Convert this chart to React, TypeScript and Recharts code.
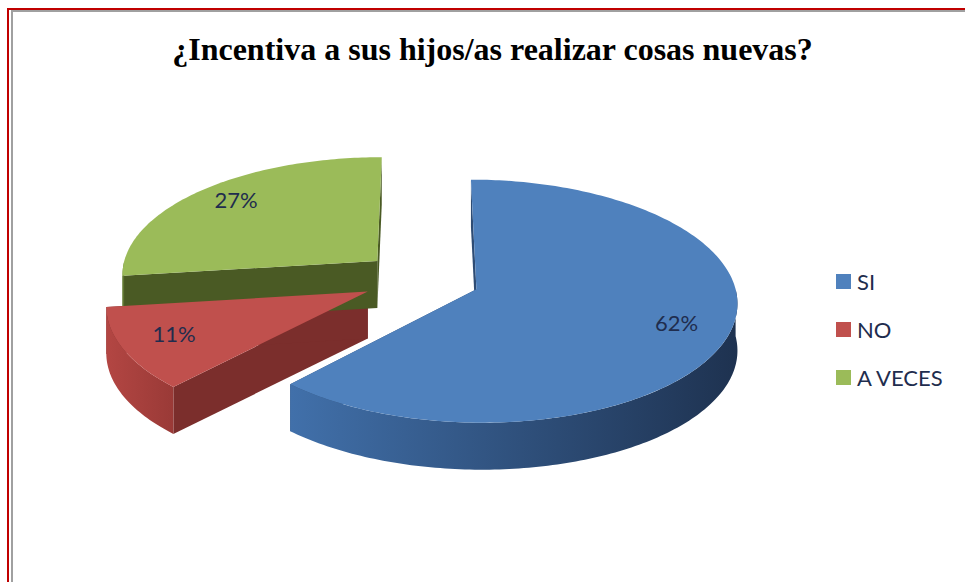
import React from "react";
import { Legend, Pie, PieChart } from "recharts";

// data
const categories = ["SI", "NO", "A VECES"];
const values = [62, 11, 27];
const title = "¿Incentiva a sus hijos/as realizar cosas nuevas?";

// colours per slice (same order as categories)
const topColors = ["#4F81BD", "#C0504D", "#9BBB59"];
const wallLeft = ["#4170AA", "#B34643", "#6F8A3A"];
const wallRight = ["#1E3250", "#9A3A37", "#55692B"];
const cutColors = ["#2E4C74", "#7B2E2C", "#4A5A24"];

const data = categories.map((name, i) => ({ name, value: values[i] }));

// fake 3d settings
const CX = 416;
const CY = 274;
const RX = 257;
const RY = 0.465;
const DEPTH = 47;
const PERSP = 0.1;
const EXPLODE = 0.23;
const LABEL_R = 0.8;
const TEXT = "#1F2D4E";

const rad = (d: number) => (d * Math.PI) / 180;

function geom(p: any) {
  const cx = p.cx ?? CX;
  const cy = p.cy ?? CY;
  const r0 = p.outerRadius ?? RX;
  const a = 90 - p.startAngle;
  const b = 90 - p.endAngle;
  const t0 = Math.min(a, b);
  const t1 = Math.max(a, b);
  const tm = p.midAngle != null ? 90 - p.midAngle : (t0 + t1) / 2;
  const eu = EXPLODE * Math.sin(rad(tm));
  const ev = -EXPLODE * Math.cos(rad(tm));
  const pt = (r: number, t: number, h: number) => {
    const u = eu + r * Math.sin(rad(t));
    const v = ev - r * Math.cos(rad(t));
    const s = 1 + PERSP * v;
    return [cx + r0 * u * s, cy + r0 * RY * v * s + DEPTH * h];
  };
  return { t0, t1, tm, pt };
}

const fmt = (q: number[]) => `${q[0].toFixed(2)},${q[1].toFixed(2)}`;

function arc(pt: any, from: number, to: number, h: number) {
  const out: string[] = [];
  const n = Math.max(2, Math.ceil(Math.abs(to - from)));
  for (let k = 0; k <= n; k++) out.push(fmt(pt(1, from + ((to - from) * k) / n, h)));
  return out;
}

function sliceIndex(p: any) {
  const name = p.name ?? p.payload?.name;
  return Math.max(0, categories.indexOf(name));
}

function SideShape(p: any) {
  const i = sliceIndex(p);
  const { t0, t1, pt } = geom(p);
  const cut = (t: number) =>
    `M${fmt(pt(0, t, 0))}L${fmt(pt(1, t, 0))}L${fmt(pt(1, t, 1))}L${fmt(pt(0, t, 1))}Z`;
  const a = Math.max(t0, 90);
  const b = Math.min(t1, 270);
  let wall = "";
  if (b > a) {
    const topArc = arc(pt, a, b, 0);
    const botArc = arc(pt, b, a, 1);
    wall = `M${topArc.join("L")}L${botArc.join("L")}Z`;
  }
  return (
    <g>
      <defs>
        <linearGradient id={`wall-${i}`} x1="0" y1="0" x2="1" y2="0">
          <stop offset="0%" stopColor={wallLeft[i]} />
          <stop offset="100%" stopColor={wallRight[i]} />
        </linearGradient>
      </defs>
      <path d={cut(t0)} fill={cutColors[i]} />
      <path d={cut(t1)} fill={cutColors[i]} />
      {wall && <path d={wall} fill={`url(#wall-${i})`} />}
    </g>
  );
}

function TopShape(p: any) {
  const i = sliceIndex(p);
  const { t0, t1, pt } = geom(p);
  const d = `M${fmt(pt(0, t0, 0))}L${arc(pt, t0, t1, 0).join("L")}Z`;
  return <path d={d} fill={topColors[i]} />;
}

function renderLabel(p: any) {
  const { tm, pt } = geom(p);
  const [x, y] = pt(LABEL_R, tm, 0);
  return (
    <text
      x={x}
      y={y - 4}
      textAnchor="middle"
      dominantBaseline="central"
      fill={TEXT}
      fontSize={22}
      fontFamily="Lato, sans-serif"
    >
      {`${Math.round((p.percent ?? 0) * 100)}%`}
    </text>
  );
}

function LegendBox() {
  return (
    <div style={{ fontFamily: "Lato, sans-serif", fontSize: 22, color: TEXT }}>
      {categories.map((c, i) => (
        <div key={c} style={{ display: "flex", alignItems: "center", height: 48 }}>
          <span style={{ width: 15, height: 15, background: topColors[i], marginRight: 6 }} />
          <span>{c}</span>
        </div>
      ))}
    </div>
  );
}

export default function App() {
  return (
    <div style={{ position: "absolute", left: 0, top: 0, width: 965, height: 582, background: "#fff", overflow: "hidden" }}>
      <div style={{ position: "absolute", left: 7, top: 8, width: 958, height: 2, background: "#C00000" }} />
      <div style={{ position: "absolute", left: 7, top: 8, width: 2, height: 574, background: "#C00000" }} />
      <div style={{ position: "absolute", left: 11, top: 10, width: 954, height: 2, background: "#A0A0A0" }} />
      <div style={{ position: "absolute", left: 11, top: 10, width: 2, height: 572, background: "#A0A0A0" }} />
      <div
        style={{
          position: "absolute",
          left: 0,
          top: 31,
          width: 985,
          textAlign: "center",
          fontFamily: "'Liberation Serif', 'Times New Roman', serif",
          fontWeight: "bold",
          fontSize: 32,
          color: "#000",
        }}
      >
        {title}
      </div>
      <div style={{ position: "absolute", left: 0, top: 0 }}>
        <PieChart width={965} height={582}>
          <Pie
            data={data}
            dataKey="value"
            nameKey="name"
            cx={CX}
            cy={CY}
            outerRadius={RX}
            startAngle={90}
            endAngle={-270}
            stroke="none"
            legendType="none"
            shape={SideShape}
            activeShape={SideShape}
            inactiveShape={SideShape}
            isAnimationActive={false}
          />
          <Pie
            data={data}
            dataKey="value"
            nameKey="name"
            cx={CX}
            cy={CY}
            outerRadius={RX}
            startAngle={90}
            endAngle={-270}
            stroke="none"
            shape={TopShape}
            activeShape={TopShape}
            inactiveShape={TopShape}
            label={renderLabel}
            labelLine={false}
            isAnimationActive={false}
          />
          <Legend
            layout="vertical"
            align="right"
            verticalAlign="top"
            wrapperStyle={{ left: 836, top: 257, width: 130 }}
            content={() => <LegendBox />}
          />
        </PieChart>
      </div>
    </div>
  );
}
